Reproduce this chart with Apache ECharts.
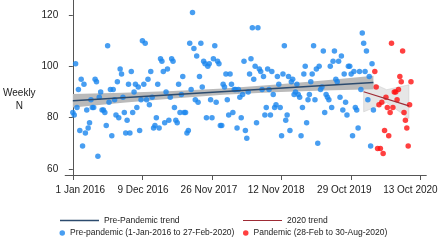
<!DOCTYPE html>
<html>
<head>
<meta charset="utf-8">
<script src="https://cdn.jsdelivr.net/npm/echarts@6/dist/echarts.min.js"></script>
<style>
html,body{margin:0;padding:0;background:#fff;}
#chart{width:440px;height:241px;}
</style>
</head>
<body>
<div id="chart"></div>
<script>
// ---- data ----
const weekTicks = [0, 50, 100, 150, 200, 250];
// label anchors (the reference's labels sit slightly off their ticks)
const labelWeeks = [5.4, 50.4, 97.8, 146.1, 195.1, 242.6];
const tickLabels = ['1 Jan 2016', '9 Dec 2016', '26 Nov 2017', '12 Nov 2018', '29 Oct 2019', '13 Oct 2020'];
const yTicks = [60, 80, 100, 120];

// weekly counts, pre-pandemic (week 0 = 1 Jan 2016)
const preCounts = [
  82, 81, 101, 84, 91, 75, 95, 69, 93, 74,
  83, 76, 78, 87, 84, 84, 95, 94, 65, 88,
  90, 83, 83, 82, 77, 108, 86, 91, 73, 91,
  87, 81, 94, 80, 99, 97, 88, 82, 74, 79,
  93, 74, 98, 82, 90, 93, 84, 92, 75, 87,
  110, 93, 109, 87, 95, 85, 98, 88, 76, 77,
  80, 93, 76, 103, 102, 98, 78, 90, 99, 79,
  88, 103, 102, 84, 79, 78, 93, 82, 89, 96,
  82, 82, 74, 75, 109, 91, 121, 107, 87, 104,
  86, 96, 109, 92, 102, 101, 80, 100, 101, 87,
  80, 103, 108, 86, 102, 101, 77, 77, 93, 92,
  97, 87, 81, 97, 93, 82, 91, 91, 76, 91,
  88, 80, 89, 102, 75, 72, 90, 97, 103, 115,
  95, 100, 78, 115, 99, 98, 91, 96, 81, 84,
  99, 91, 81, 98, 89, 84, 85, 96, 93, 84,
  73, 97, 108, 79, 81, 96, 75, 94, 95, 89,
  90, 93, 89, 88, 73, 84, 97, 100, 78, 87,
  89, 94, 97, 108, 87, 99, 70, 100, 91, 92,
  106, 82, 89, 88, 87, 100, 84, 102, 106, 95,
  94, 102, 88, 104, 83, 97, 86, 81, 100, 100,
  97, 73, 98, 84, 83, 76, 98, 91, 113, 109,
  98, 106, 87, 96, 69, 101, 83
];
// weekly counts, pandemic (28 Feb - 30 Aug 2020)
const pandemicStartWeek = 217;
const pandemicCounts = [
  98, 92, 68, 85, 68, 86, 66, 75, 88, 84,
  73, 82, 109, 84, 90, 90, 87, 91, 96, 94,
  106, 82, 79, 76, 69, 85, 94
];

// fitted trends and confidence bands
const preTrendWeeks = [0, 216];
const preTrendValues = [86.6, 93.7];
const preBandWeeks = [0, 36, 72, 108, 144, 180, 216];
const preBandLow  = [84.0, 85.8, 87.5, 88.9, 89.9, 90.6, 91.1];
const preBandHigh = [89.2, 89.7, 90.4, 91.4, 92.8, 94.5, 96.3];

const panTrendWeeks = [209, 241.5];
const panTrendValues = [90.1, 84.6];
const panBandWeeks = [209, 225.5, 241.5];
const panBandLow  = [82.3, 85.9, 79.7];
const panBandHigh = [95.0, 90.9, 92.8];

// ---- build chart ----
const FONT = 'Liberation Sans, Arial, sans-serif';
const preData = preCounts.map((v, i) => [i, v]);
const panData = pandemicCounts.map((v, i) => [pandemicStartWeek + i, v]);
const pairs = (xs, ys) => xs.map((x, i) => [x, ys[i]]);

function bandItem(weeks, low, high, fill, stroke) {
  return function (params, api) {
    const pts = [];
    for (let i = 0; i < weeks.length; i++) pts.push(api.coord([weeks[i], high[i]]));
    for (let i = weeks.length - 1; i >= 0; i--) pts.push(api.coord([weeks[i], low[i]]));
    return {
      type: 'polygon',
      shape: { points: pts },
      style: { fill: fill, stroke: stroke, lineWidth: stroke ? 0.6 : 0 }
    };
  };
}

const chart = echarts.init(document.getElementById('chart'), null, { renderer: 'canvas' });
const legendText = { fontFamily: FONT, fontSize: 8.5, color: '#222' };
chart.setOption({
  animation: false,
  backgroundColor: '#fff',
  textStyle: { fontFamily: FONT },
  grid: { left: 50, right: 12.7, top: 0, bottom: 66, containLabel: false },
  xAxis: {
    type: 'value',
    min: -5.5,
    max: 254,
    axisLine: { show: true, lineStyle: { color: '#555', width: 1 } },
    axisTick: { show: true, length: 5, customValues: weekTicks, lineStyle: { color: '#555' } },
    axisLabel: {
      customValues: labelWeeks,
      margin: 10,
      fontSize: 10,
      color: '#222',
      fontFamily: FONT,
      formatter: v => tickLabels[labelWeeks.indexOf(v)] || ''
    },
    splitLine: { show: false }
  },
  yAxis: {
    type: 'value',
    min: 57.67,
    max: 125.85,
    name: 'Weekly\nN',
    nameLocation: 'middle',
    nameRotate: 0,
    nameGap: 31,
    nameTextStyle: {
      fontFamily: FONT, fontSize: 10, color: '#222', align: 'center',
      verticalAlign: 'top', lineHeight: 12.3
    },
    axisLine: { show: true, lineStyle: { color: '#555', width: 1 } },
    axisTick: { show: true, length: 4, customValues: yTicks, lineStyle: { color: '#555' } },
    axisLabel: {
      customValues: yTicks,
      margin: 7,
      fontSize: 10,
      color: '#222',
      fontFamily: FONT
    },
    splitLine: { show: false }
  },
  legend: [
    { left: 60, top: 216, padding: 0, icon: 'rect', itemWidth: 39, itemHeight: 1.3, data: ['Pre-Pandemic trend'], textStyle: legendText, selectedMode: false },
    { left: 243, top: 216, padding: 0, icon: 'rect', itemWidth: 39, itemHeight: 1.1, data: ['2020 trend'], textStyle: legendText, selectedMode: false },
    { left: 59.5, top: 228.5, padding: 0, icon: 'circle', itemWidth: 5.5, itemHeight: 10, data: ['Pre-pandemic (1-Jan-2016 to 27-Feb-2020)'], textStyle: legendText, selectedMode: false },
    { left: 243, top: 228.5, padding: 0, icon: 'circle', itemWidth: 5.5, itemHeight: 10, data: ['Pandemic (28-Feb to 30-Aug-2020)'], textStyle: legendText, selectedMode: false }
  ],
  series: [
    {
      name: 'pandemic band', type: 'custom', z: 1, silent: true, clip: true,
      renderItem: bandItem(panBandWeeks, panBandLow, panBandHigh, '#e6e6e6', '#cfcfcf'),
      data: [[panBandWeeks[0], panBandLow[0]]]
    },
    {
      name: 'pre band', type: 'custom', z: 1, silent: true, clip: true,
      renderItem: bandItem(preBandWeeks, preBandLow, preBandHigh, '#bababa', null),
      data: [[preBandWeeks[0], preBandLow[0]]]
    },
    {
      name: 'Pre-pandemic (1-Jan-2016 to 27-Feb-2020)', type: 'scatter', z: 2,
      symbol: 'circle', symbolSize: 5.5,
      itemStyle: { color: '#1a86ee' },
      data: preData
    },
    {
      name: 'Pandemic (28-Feb to 30-Aug-2020)', type: 'scatter', z: 2,
      symbol: 'circle', symbolSize: 5.5,
      itemStyle: { color: '#ff1010' },
      data: panData
    },
    {
      name: 'Pre-Pandemic trend', type: 'line', z: 3, symbol: 'none', showSymbol: false,
      lineStyle: { color: '#2c4b6e', width: 1.3 },
      itemStyle: { color: '#2c4b6e' },
      data: pairs(preTrendWeeks, preTrendValues)
    },
    {
      name: '2020 trend', type: 'line', z: 3, symbol: 'none', showSymbol: false,
      lineStyle: { color: '#9e2b35', width: 1.1 },
      itemStyle: { color: '#9e2b35' },
      data: pairs(panTrendWeeks, panTrendValues)
    }
  ]
});
</script>
</body>
</html>
